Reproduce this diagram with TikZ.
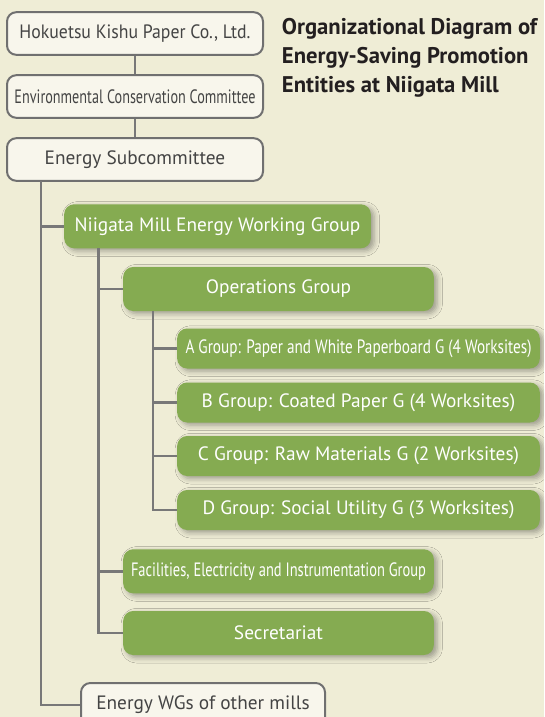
\documentclass[tikz,border=0pt]{standalone}
\usepackage{fontspec}
\setmainfont{PT Sans}
\usepackage{graphicx}
\usetikzlibrary{shadows.blur}

\definecolor{paper}{RGB}{239,237,214}
\definecolor{boxfill}{RGB}{248,246,236}
\definecolor{boxline}{RGB}{112,112,112}
\definecolor{leaf}{RGB}{133,171,81}
\definecolor{wire}{RGB}{120,120,120}
\definecolor{ink}{RGB}{68,68,68}
\definecolor{headink}{RGB}{35,31,32}

% squeeze a label horizontally to a given width (in px units)
\newcommand{\squeeze}[2]{\resizebox{#1pt}{\height}{#2}}

\tikzset{
	every picture/.style={line width=0.75pt},
	whitebox/.style={draw=boxline, line width=1.5pt, fill=boxfill, rounded corners=7pt,
		text=ink, inner sep=0pt, minimum height=32pt,
		font=\fontsize{14.5}{16}\selectfont},
	greenbox/.style={fill=leaf, rounded corners=7.5pt, text=white, inner sep=0pt,
		minimum height=33pt, font=\fontsize{14.5}{16}\selectfont,
		blur shadow={shadow xshift=2.5pt, shadow yshift=-2pt, shadow blur radius=4pt,
			shadow opacity=35}},
	link/.style={draw=wire, line width=1.9pt}
}

\begin{document}
\begin{tikzpicture}[x=0.75pt,y=0.75pt,yscale=-1,xscale=1]
	\clip (0,0) rectangle (544,717);
	\fill [paper] (0,0) rectangle (544,717);

	% Text Node: heading
	\node [anchor=north west, align=left, text=headink,
		font=\fontsize{17}{22}\selectfont\bfseries] (head) at (277,13)
		{Organizational Diagram of\\Energy-Saving Promotion\\Entities at Niigata Mill};

	%Shape: upper committee boxes
	\node [whitebox, minimum width=192pt] (hok) at (135,33.5) {\squeeze{173.25}{Hokuetsu Kishu Paper Co., Ltd.}};
	\node [whitebox, minimum width=192pt] (env) at (135,96.5) {\squeeze{180.75}{Environmental Conservation Committee}};
	\node [whitebox, minimum width=192pt] (sub) at (135,159.5) {Energy Subcommittee};

	%Shape: working group boxes
	\node [greenbox, minimum width=230pt] (mill) at (217.5,226.3) {Niigata Mill Energy Working Group};
	\node [greenbox, minimum width=233pt] (ops) at (278.5,289) {Operations Group};
	\node [greenbox, minimum width=272pt, minimum height=30pt] (grpA) at (358.5,348.5) {\squeeze{259.5}{A Group: Paper and White Paperboard G (4 Worksites)}};
	\node [greenbox, minimum width=272pt, minimum height=30pt] (grpB) at (358.5,402.5) {B Group: Coated Paper G (4 Worksites)};
	\node [greenbox, minimum width=272pt, minimum height=30pt] (grpC) at (358.5,456) {C Group: Raw Materials G (2 Worksites)};
	\node [greenbox, minimum width=272pt, minimum height=30pt] (grpD) at (358.5,510) {D Group: Social Utility G (3 Worksites)};
	\node [greenbox, minimum width=233pt] (fac) at (278.5,571.3) {\squeeze{221.25}{Facilities, Electricity and Instrumentation Group}};
	\node [greenbox, minimum width=233pt] (sec) at (278.5,633) {Secretariat};

	\node [whitebox, minimum width=183pt, minimum height=33pt] (wgs) at (203,705) {Energy WGs of other mills};

	%Straight Lines: trunk heads
	\coordinate (t1) at (41,181);
	\coordinate (t2) at (98.5,248);
	\coordinate (t3) at (153,311);

	%Straight Lines
	\draw [link] (hok.south) -- (env.north);
	\draw [link] (env.south) -- (sub.north);
	\draw [link] (t1) |- (mill.west);
	\draw [link] (t1) |- (wgs.west);
	\draw [link] (t2) |- (ops.west);
	\draw [link] (t2) |- (fac.west);
	\draw [link] (t2) |- (sec.west);
	\foreach \g in {grpA,grpB,grpC,grpD}
		\draw [link] (t3) |- (\g.west);

\end{tikzpicture}
\end{document}
